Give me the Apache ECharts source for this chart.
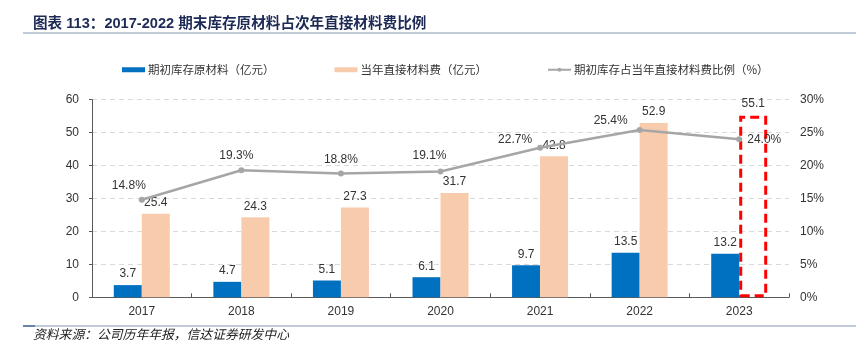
<!DOCTYPE html>
<html>
<head>
<meta charset="utf-8">
<script src="https://cdn.jsdelivr.net/npm/echarts@6/dist/echarts.min.js"></script>
<style>html,body{margin:0;padding:0;background:#fff;}#c{width:856px;height:355px;}</style>
</head>
<body>
<div id="c"></div>
<script>
const years = ['2017','2018','2019','2020','2021','2022','2023'];
const inventory = [3.7, 4.7, 5.1, 6.1, 9.7, 13.5, 13.2];
const material = [25.4, 24.3, 27.3, 31.7, 42.8, 52.9, 55.1];
const ratio = [14.8, 19.3, 18.8, 19.1, 22.7, 25.4, 24.0];
const leftTicks = [0, 60, 10];
const rightTicks = [0, 30, 5];

const FN = '"Liberation Sans", Arial, "Noto Sans CJK SC", sans-serif';
const CN = '"Noto Sans CJK SC", "Microsoft YaHei", sans-serif';
const TN = '"Liberation Sans", Arial, "Noto Sans CJK SC", sans-serif';

const ratioLabelOffsets = [[-13,0],[-5,0],[0,0],[-11,-2],[-25,6],[-29,5],null];

const chart = echarts.init(document.getElementById('c'));
chart.setOption({
  animation: false,
  backgroundColor: '#fff',
  title: {
    text: '图表 113：2017-2022 期末库存原材料占次年直接材料费比例',
    left: 28, top: 12,
    textStyle: {fontFamily: TN, fontSize: 14.6, fontWeight: 'bold', color: '#1c2a55'}
  },
  graphic: [
    {type: 'line', shape: {x1: 23, y1: 33, x2: 856, y2: 33}, style: {stroke: '#8497b0', lineWidth: 1.2}},
    {type: 'line', shape: {x1: 23, y1: 326, x2: 856, y2: 326}, style: {stroke: '#8497b0', lineWidth: 1.2}},
    {type: 'line', shape: {x1: 23, y1: 326, x2: 35, y2: 326}, style: {stroke: '#4a6a9a', lineWidth: 1.5}},
    {type: 'text', left: 33, top: 328, style: {text: '资料来源：公司历年年报，信达证券研发中心', fontFamily: CN, fontSize: 12.8, fontStyle: 'italic', fill: '#222'}}
  ],
  legend: {
    left: 117, top: 59, itemGap: 60, itemWidth: 23, itemHeight: 5,
    textStyle: {fontFamily: CN, fontSize: 11.5, color: '#333', padding: [0,0,0,-2]},
    data: [
      {name: '期初库存原材料（亿元）', icon: 'rect'},
      {name: '当年直接材料费（亿元）', icon: 'rect', itemStyle: {color: '#f8cbad', borderWidth: 0}},
      {name: '期初库存占当年直接材料费比例（%）'}
    ]
  },
  grid: {left: 92, right: 67, top: 99.7, bottom: 57.7},
  xAxis: {
    type: 'category', data: years,
    axisLine: {lineStyle: {color: '#595959', width: 1}},
    axisTick: {show: true, inside: true, length: 4, lineStyle: {color: '#595959'}},
    axisLabel: {fontFamily: FN, fontSize: 12, color: '#333', margin: 8}
  },
  yAxis: [
    {
      type: 'value', min: leftTicks[0], max: leftTicks[1], interval: leftTicks[2],
      axisLine: {show: true, lineStyle: {color: '#595959'}},
      axisTick: {show: true, length: 3, lineStyle: {color: '#595959'}},
      axisLabel: {fontFamily: FN, fontSize: 12, color: '#333', margin: 13},
      splitLine: {lineStyle: {color: '#d9d9d9', type: [5,4]}}
    },
    {
      type: 'value', min: rightTicks[0], max: rightTicks[1], interval: rightTicks[2],
      axisLine: {show: false}, axisTick: {show: false},
      axisLabel: {fontFamily: FN, fontSize: 12, color: '#333', margin: 11, formatter: '{value}%'},
      splitLine: {show: false}
    }
  ],
  series: [
    {
      name: '期初库存原材料（亿元）', type: 'bar', data: inventory,
      barWidth: 28, barGap: '0%',
      itemStyle: {color: '#0070c0'},
      label: {show: true, position: 'top', fontFamily: FN, fontSize: 12, color: '#333'}
    },
    {
      name: '当年直接材料费（亿元）', type: 'bar',
      data: material.map((v, i) => i === material.length - 1 ? {
        value: v,
        itemStyle: {color: 'rgba(255,255,255,0)', borderColor: '#ff0000', borderWidth: 3, borderType: [9,5]},
        label: {distance: 6}
      } : v),
      barWidth: 28,
      itemStyle: {color: '#f8cbad'},
      label: {show: true, position: 'top', fontFamily: FN, fontSize: 12, color: '#333'}
    },
    {
      name: '期初库存占当年直接材料费比例（%）', type: 'line', yAxisIndex: 1,
      data: ratio.map((v, i) => {
        const o = ratioLabelOffsets[i];
        if (o) return {value: v, label: {position: 'top', offset: o}};
        return {value: v, label: {position: 'right', distance: 5}};
      }),
      symbol: 'circle', symbolSize: 6,
      lineStyle: {color: '#a6a6a6', width: 2.5},
      itemStyle: {color: '#a6a6a6'},
      label: {show: true, fontFamily: FN, fontSize: 12, color: '#333', formatter: p => p.value.toFixed(1) + '%'}
    }
  ]
});
</script>
</body>
</html>
